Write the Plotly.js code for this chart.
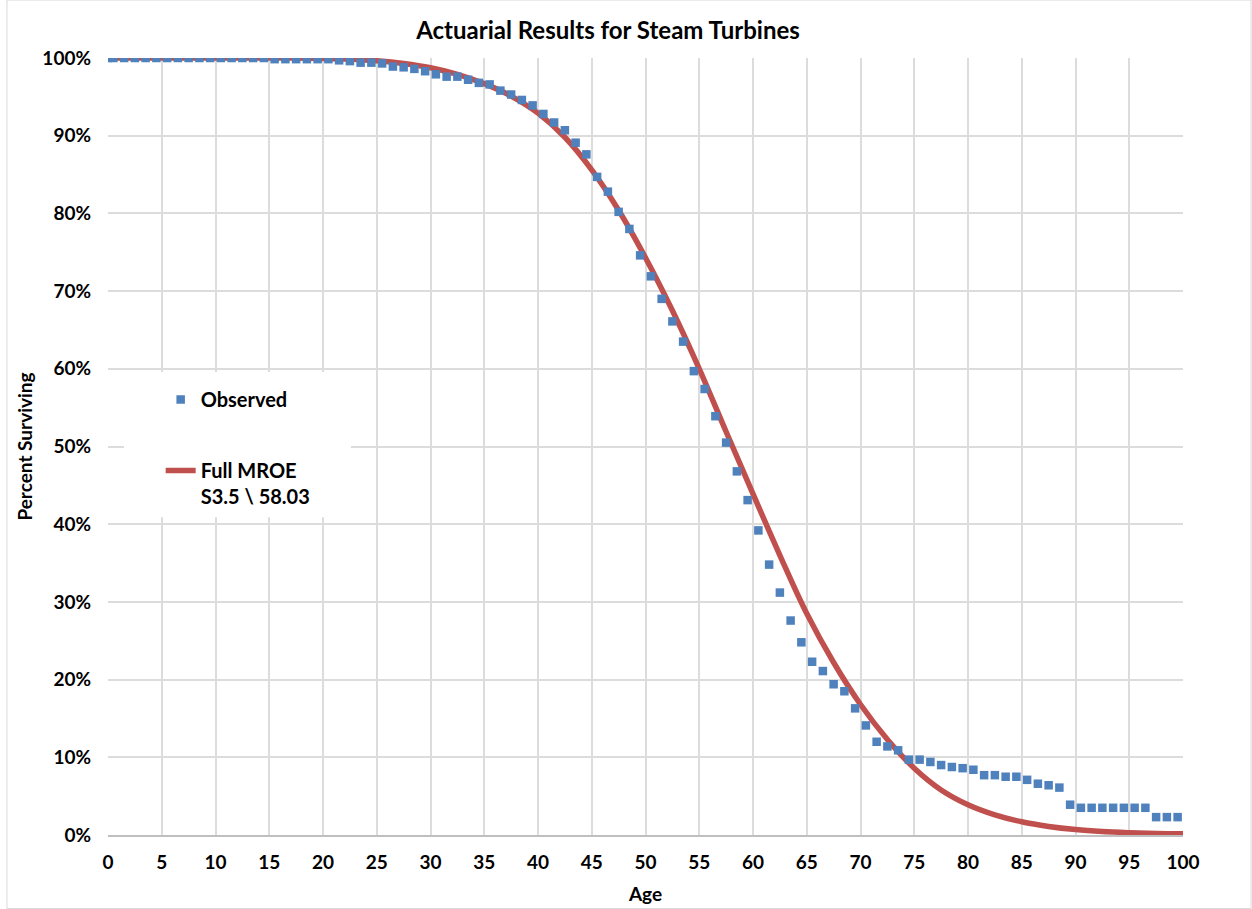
<!DOCTYPE html>
<html>
<head>
<meta charset="utf-8">
<script src="https://cdn.plot.ly/plotly-3.0.1.min.js"></script>
<style>html,body{margin:0;padding:0;background:#fff;}#chart{width:1252px;height:909px;}</style>
</head>
<body>
<div id="chart"></div>
<script>
// Observed points (age, percent surviving)
const obsAge = [0,0.5,1.5,2.5,3.5,4.5,5.5,6.5,7.5,8.5,9.5,10.5,11.5,12.5,13.5,14.5,15.5,16.5,17.5,18.5,19.5,20.5,
  21.5,22.5,23.5,24.5,25.5,26.5,27.5,28.5,29.5,30.5,31.5,32.5,33.5,34.5,35.5,36.5,37.5,38.5,39.5,40.5,
  41.5,42.5,43.5,44.5,45.5,46.5,47.5,48.5,49.5,50.5,51.5,52.5,53.5,54.5,55.5,56.5,57.5,58.5,59.5,60.5,
  61.5,62.5,63.5,64.5,65.5,66.5,67.5,68.5,69.5,70.5,71.5,72.5,73.5,74.5,75.5,76.5,77.5,78.5,79.5,80.5,
  81.5,82.5,83.5,84.5,85.5,86.5,87.5,88.5,89.5,90.5,91.5,92.5,93.5,94.5,95.5,96.5,97.5,98.5,99.5];
const obsPct = [100,100,100,100,100,100,100,100,100,100,100,100,100,100,100,100,99.85,99.85,99.85,99.85,99.85,99.85,
  99.7,99.6,99.4,99.4,99.3,98.9,98.8,98.6,98.3,97.9,97.6,97.6,97.2,96.8,96.6,95.8,95.3,94.6,93.9,92.8,
  91.7,90.7,89.1,87.6,84.7,82.8,80.2,78.0,74.6,71.9,69.0,66.1,63.5,59.7,57.4,53.9,50.5,46.8,43.1,39.2,
  34.8,31.2,27.6,24.8,22.3,21.1,19.4,18.5,16.3,14.1,12.0,11.4,10.9,9.7,9.7,9.4,9.0,8.75,8.6,8.4,
  7.7,7.7,7.5,7.5,7.1,6.6,6.4,6.1,3.9,3.5,3.5,3.5,3.5,3.5,3.5,3.5,2.3,2.3,2.3];

// Fitted curve (Full MROE, S3.5 \ 58.03)
const fitAge = [0,2.5,5,7.5,10,12.5,15,17.5,20,22.5,25,27.5,30,32.5,35,37.5,40,42.5,45,47.5,50,52.5,55,57.5,60,62.5,65,67.5,70,72.5,75,77.5,80,82.5,85,87.5,90,92.5,95,97.5,100];
const fitPct = [100,100,100,100,100,100,100,99.99,99.95,99.85,99.65,99.3,98.75,97.9,96.7,95.1,92.9,89.8,85.6,80.4,74.3,67.5,60.0,51.9,43.9,36.0,28.5,22.2,16.8,12.3,8.6,5.8,3.9,2.6,1.7,1.1,0.7,0.45,0.3,0.2,0.15];

const xTicks = [0,5,10,15,20,25,30,35,40,45,50,55,60,65,70,75,80,85,90,95,100];
const yTicks = [0,10,20,30,40,50,60,70,80,90,100];

const FONT = 'Lato, "Open Sans", sans-serif';

const traces = [
  {
    x: fitAge, y: fitPct, type: 'scatter', mode: 'lines',
    name: '<b>Full MROE<br>S3.5 \\ 58.03</b>',
    line: {color: '#C0504D', width: 5.5, shape: 'spline', smoothing: 1},
    legendgroup: 'b', legendrank: 2
  },
  {
    x: obsAge, y: obsPct, type: 'scatter', mode: 'markers',
    name: '<b>Observed</b>',
    marker: {symbol: 'square', size: 8.5, color: '#4F81BD'},
    legendgroup: 'a', legendrank: 1
  }
];

const layout = {
  width: 1252, height: 909,
  margin: {l: 108, r: 69, t: 58, b: 74},
  paper_bgcolor: '#ffffff', plot_bgcolor: '#ffffff',
  font: {family: FONT, color: '#000', size: 19},
  title: {text: '<b>Actuarial Results for Steam Turbines</b>', font: {family: FONT, size: 24, color: '#000'}, x: 0.4856, xanchor: 'center', y: 0.966, yanchor: 'middle'},
  xaxis: {
    range: [0, 100], tickvals: xTicks, ticktext: xTicks.map(v => '<b>' + v + '</b>'),
    showgrid: true, gridcolor: '#DCDCDC', gridwidth: 2,
    showline: true, linecolor: '#BFBFBF', linewidth: 1.5, mirror: false,
    zeroline: false, ticks: '', tickfont: {size: 19, family: FONT},
    ticklabelstandoff: 10,
    title: {text: '<b>Age</b>', font: {size: 19, family: FONT}, standoff: 15},
    fixedrange: true
  },
  yaxis: {
    range: [0, 100], tickvals: yTicks, ticktext: yTicks.map(v => '<b>' + v + '%</b>'),
    showgrid: true, gridcolor: '#DCDCDC', gridwidth: 2,
    showline: false, zeroline: false, ticks: '', tickfont: {size: 19, family: FONT},
    ticklabelstandoff: 16,
    title: {text: '<b>Percent Surviving</b>', font: {size: 19, family: FONT}, standoff: 4},
    fixedrange: true
  },
  showlegend: true,
  legend: {
    x: 0.049, y: 0.5856, xanchor: 'left', yanchor: 'top',
    bgcolor: 'rgba(0,0,0,0)', borderwidth: 0,
    font: {size: 20, family: FONT, color: '#000'},
    traceorder: 'grouped', tracegroupgap: 42, valign: 'top'
  },
  shapes: [
    {type: 'rect', xref: 'paper', yref: 'paper', x0: -0.094, x1: 1.0633, y0: -0.0946, y1: 1.0746,
     line: {color: '#D9D9D9', width: 1}, fillcolor: 'rgba(0,0,0,0)', layer: 'below'},
    {type: 'rect', xref: 'x', yref: 'y', x0: 1.49, x1: 22.6, y0: 40.9, y1: 59.6,
     line: {width: 0}, fillcolor: '#ffffff', layer: 'between'}
  ]
};

Plotly.newPlot('chart', traces, layout, {displayModeBar: false, staticPlot: true});
</script>
</body>
</html>
